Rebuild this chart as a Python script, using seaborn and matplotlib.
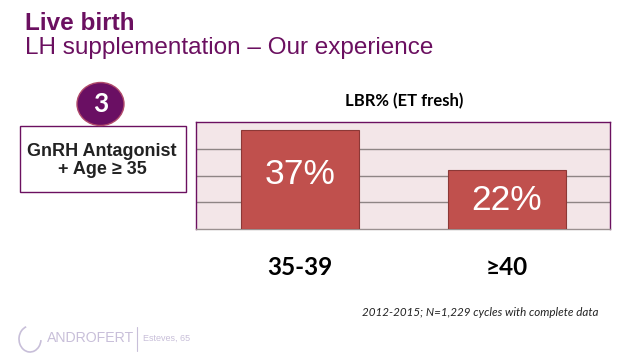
import matplotlib
matplotlib.use("Agg")
import matplotlib.pyplot as plt
import seaborn as sns
import pandas as pd
from matplotlib.patches import Rectangle, Ellipse, Arc

categories = ["35-39", "≥40"]
values = [37, 22]
value_labels = ["37%", "22%"]
chart_title = "LBR% (ET fresh)"
title_line1 = "Live birth"
title_line2 = "LH supplementation – Our experience"
badge = "3"
box_lines = ["GnRH Antagonist", "+ Age ≥ 35"]
footnote = "2012-2015; N=1,229 cycles with complete data"

sns.set_theme(style="white")
plt.rcParams['font.family'] = ['Liberation Sans', 'DejaVu Sans']

W, H = 638, 359
fig = plt.figure(figsize=(W / 100, H / 100), dpi=100)
fig.patch.set_facecolor("white")

def fx(x):
    return x / W

def fy(y):
    return 1 - y / H

PURPLE = "#6B1060"

ax = fig.add_axes([fx(196.3), fy(229), fx(610.3) - fx(196.3), fy(122) - fy(229)])
df = pd.DataFrame({"cat": categories, "val": values})
sns.barplot(data=df, x="cat", y="val", ax=ax, color="#C0504D", saturation=1,
            width=0.57, edgecolor="#8C3836", linewidth=0.8, zorder=3)
ax.set_facecolor("#F3E6E8")
ax.set_ylim(0, 40)
ax.set_xlim(-0.5, 1.5)
ax.set_yticks([10, 20, 30])
ax.yaxis.grid(True, color="#8E8585", linewidth=1.0, zorder=1)
ax.set_axisbelow(True)
ax.tick_params(left=False, bottom=False, labelleft=False, labelbottom=False)
ax.set_xlabel("")
ax.set_ylabel("")
for s in ["top", "left", "right"]:
    ax.spines[s].set_color(PURPLE)
    ax.spines[s].set_linewidth(1.0)
    ax.spines[s].set_visible(True)
ax.spines["bottom"].set_color("#9A9090")
ax.spines["bottom"].set_linewidth(1.0)
ax.spines["bottom"].set_visible(True)

fracs = [0.55, 0.49]
for i, (v, lab) in enumerate(zip(values, value_labels)):
    ax.text(i, v * fracs[i], lab, ha="center", va="center", color="white",
            fontsize=25.5, zorder=5)

for i, c in enumerate(categories):
    ax.text(i, -0.36, c, transform=ax.get_xaxis_transform(), ha="center", va="center",
            fontsize=17.5, fontweight="bold", color="black", family=["Lato", "DejaVu Sans"])

fig.text(fx(404), fy(101), chart_title, ha="center", va="center", fontsize=12,
         fontweight="bold", color="black", family=["Lato", "DejaVu Sans"])

fig.text(fx(25), fy(24), title_line1, ha="left", va="center", fontsize=17.5,
         fontweight="bold", color=PURPLE)
fig.text(fx(25), fy(48), title_line2, ha="left", va="center", fontsize=17.5,
         color=PURPLE)

# box
fig.patches.append(Rectangle((fx(20), fy(192)), fx(186) - fx(20), fy(126) - fy(192),
                             transform=fig.transFigure, facecolor="white",
                             edgecolor=PURPLE, linewidth=1.0, zorder=2))
fig.text(fx(102), fy(151), box_lines[0], ha="center", va="center", fontsize=13,
         fontweight="bold", color="#222222", zorder=4)
fig.text(fx(102), fy(170), box_lines[1], ha="center", va="center", fontsize=13,
         fontweight="bold", color="#222222", zorder=4)

# badge circle
fig.patches.append(Ellipse((fx(100.5), fy(104)), 47 / W, 43 / H,
                           transform=fig.transFigure, facecolor="#6A0F63",
                           edgecolor="#B04A6A", linewidth=1.0, zorder=5))
fig.text(fx(100.5), fy(104), badge, ha="center", va="center", fontsize=19,
         fontweight="bold", color="white", zorder=6, family=["Lato", "DejaVu Sans"])

fig.text(fx(480), fy(313), footnote, ha="center", va="center", fontsize=8.4,
         style="italic", color="#222222", family=["Lato", "DejaVu Sans"])

# logo
LOGO = "#C8BFD9"
fig.text(fx(47), fy(338), "ANDROFERT", ha="left", va="center", fontsize=10.2,
         color=LOGO)
fig.lines.append(plt.Line2D([fx(137), fx(137)], [fy(327), fy(351)],
                            transform=fig.transFigure, color=LOGO, linewidth=0.8))
fig.text(fx(143), fy(338), "Esteves, 65", ha="left", va="center", fontsize=6.5,
         color=LOGO)
fig.patches.append(Arc((fx(30), fy(339)), 22 / W, 26 / H, theta1=100, theta2=350,
                       transform=fig.transFigure, edgecolor=LOGO, linewidth=1.2))

fig.savefig("out.png", dpi=100, facecolor="white")
